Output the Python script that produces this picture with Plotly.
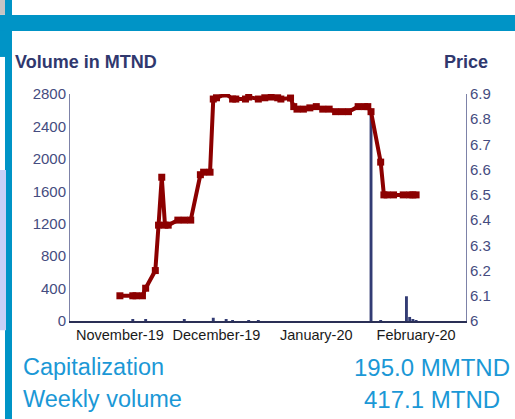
import plotly.graph_objects as go

# price series (TND)
price_dates = [
    "2019-11-01", "2019-11-05", "2019-11-06", "2019-11-08", "2019-11-09",
    "2019-11-12", "2019-11-13", "2019-11-14", "2019-11-15", "2019-11-16",
    "2019-11-19", "2019-11-21", "2019-11-23", "2019-11-26", "2019-11-27",
    "2019-11-29", "2019-11-30", "2019-12-01", "2019-12-04", "2019-12-06",
    "2019-12-07", "2019-12-10", "2019-12-11", "2019-12-14", "2019-12-16",
    "2019-12-18", "2019-12-20", "2019-12-21", "2019-12-24", "2019-12-25",
    "2019-12-26", "2019-12-28", "2019-12-30", "2020-01-01", "2020-01-03",
    "2020-01-05", "2020-01-07", "2020-01-09", "2020-01-11", "2020-01-14",
    "2020-01-16", "2020-01-17", "2020-01-18", "2020-01-21", "2020-01-22",
    "2020-01-23", "2020-01-25", "2020-01-28", "2020-01-30", "2020-01-31",
    "2020-02-01",
]
price = [
    6.10, 6.10, 6.10, 6.10, 6.13,
    6.20, 6.38, 6.57, 6.38, 6.38,
    6.40, 6.40, 6.40, 6.58, 6.59,
    6.59, 6.88, 6.885, 6.90, 6.88,
    6.88, 6.88, 6.888, 6.88, 6.885,
    6.888, 6.885, 6.88, 6.884, 6.85,
    6.84, 6.84, 6.845, 6.85, 6.84,
    6.84, 6.83, 6.83, 6.83, 6.85,
    6.85, 6.85, 6.83, 6.63, 6.50,
    6.50, 6.50, 6.50, 6.50, 6.50,
    6.50,
]

# daily volume (MTND)
vol_dates = [
    "2019-11-05", "2019-11-09", "2019-11-21", "2019-11-30", "2019-12-04",
    "2019-12-06", "2019-12-11", "2019-12-14", "2020-01-18", "2020-01-21",
    "2020-01-29", "2020-01-30", "2020-01-31", "2020-02-01",
]
volume = [15, 25, 20, 40, 15, 10, 8, 8, 2600, 12, 305, 50, 20, 10]

capitalization = "195.0 MMTND"
weekly_volume = "417.1 MTND"

# plot area in pixels: x 70..466, y 94..321
def px(x):
    return (x - 70) / 396

def py(y):
    return (320.7 - y) / 226.7

blue = "#0094c6"
navy = "#30386e"
light = "#1b98d6"
font = "Arial, Liberation Sans, sans-serif"

fig = go.Figure()
fig.add_trace(go.Bar(x=vol_dates, y=volume, marker_color="#333c74",
                     marker_line_width=0, width=0.9 * 86400000))
fig.add_trace(go.Scatter(x=price_dates, y=price, yaxis="y2", mode="lines+markers",
                         line=dict(color="#8c0000", width=4),
                         marker=dict(symbol="square", size=7, color="#8c0000")))

shapes = [
    dict(x0=px(0), x1=px(515), y0=py(15), y1=py(31), fillcolor=blue),
    dict(x0=px(0), x1=px(12), y0=py(31), y1=py(57), fillcolor=blue),
    dict(x0=px(5), x1=px(12), y0=py(0), y1=py(419), fillcolor=blue),
    dict(x0=px(0), x1=px(5), y0=py(0), y1=py(15), fillcolor="#c4c4c4"),
    dict(x0=px(0), x1=px(6), y0=py(170), y1=py(330), fillcolor="#c9d0f7"),
]
for s in shapes:
    s.update(type="rect", xref="paper", yref="paper", line_width=0, layer="below")
fig.update_layout(shapes=shapes)

ann = [
    dict(text="<b>Volume in MTND</b>", x=px(13), y=py(62), xanchor="left",
         font=dict(size=18, color=navy)),
    dict(text="<b>Price</b>", x=px(490), y=py(62), xanchor="right",
         font=dict(size=18, color=navy)),
    dict(text="Capitalization", x=px(21), y=py(367), xanchor="left",
         font=dict(size=23.5, color=light)),
    dict(text="Weekly volume", x=px(21), y=py(399), xanchor="left",
         font=dict(size=23.5, color=light)),
    dict(text=capitalization, x=px(432), y=py(367), xanchor="center",
         font=dict(size=24, color=light)),
    dict(text=weekly_volume, x=px(432), y=py(399), xanchor="center",
         font=dict(size=24, color=light)),
]
for a in ann:
    a.update(xref="paper", yref="paper", yanchor="middle", showarrow=False)

fig.update_layout(
    width=515, height=419,
    margin=dict(l=70, r=49, t=94, b=98),
    paper_bgcolor="white", plot_bgcolor="white",
    showlegend=False,
    font=dict(family=font),
    annotations=ann,
    xaxis=dict(range=["2019-10-16 12:00", "2020-02-16 12:00"], dtick="M1",
               tick0="2019-11-01", tickformat="%B-%y", showgrid=False,
               showline=True, linecolor="#2a2f55", linewidth=2, ticks="",
               tickfont=dict(size=14.5, color="#1a1a1a")),
    yaxis=dict(range=[0, 2800], dtick=400, showgrid=False, zeroline=False,
               showline=True, linecolor="#7d82a8", linewidth=1, ticks="",
               tickfont=dict(size=15, color="#454c80")),
    yaxis2=dict(range=[6, 6.9], dtick=0.1, overlaying="y", side="right",
                showgrid=False, zeroline=False, showline=True,
                linecolor="#7d82a8", linewidth=1, ticks="",
                tickfont=dict(size=15, color="#454c80")),
)

# the page body has a default 8px margin; remove it so the figure sits at 0,0
fig.write_html("out.html", config={"displayModeBar": False},
               post_script="document.body.style.margin='0';")
